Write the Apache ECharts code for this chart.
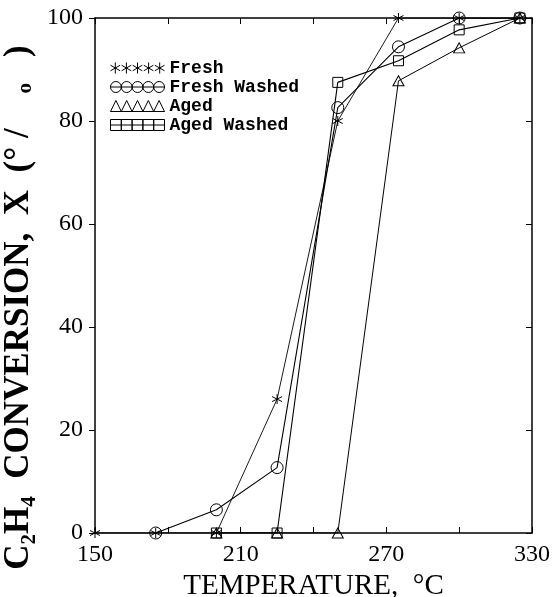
<!DOCTYPE html>
<html>
<head>
<meta charset="utf-8">
<script src="https://cdn.jsdelivr.net/npm/echarts@6/dist/echarts.min.js"></script>
<style>html,body{margin:0;padding:0;background:#fff}#c{width:552px;height:597px}</style>
</head>
<body>
<div id="c"></div>
<script>
// ---- data ----
const seriesNames = ['Fresh', 'Fresh Washed', 'Aged', 'Aged Washed'];
const freshT = [150, 175, 200, 225, 250, 275, 300, 325];
const freshX = [0, 0, 0, 26, 80, 100, 100, 100];
const freshWashedT = [175, 200, 225, 250, 275, 300, 325];
const freshWashedX = [0, 4.5, 12.7, 82.6, 94.4, 100, 100];
const agedT = [200, 225, 250, 275, 300, 325];
const agedX = [0, 0, 0, 87.8, 94.2, 100];
const agedWashedT = [200, 225, 250, 275, 300, 325];
const agedWashedX = [0, 0, 87.5, 91.7, 97.7, 100];
const xTicks = [150, 210, 270, 330];
const yTicks = [0, 20, 40, 60, 80, 100];

function pairs(t, x) { return t.map((v, i) => [v, x[i]]); }

// symbols
const starPath = 'path://M0,-5L0,5M-4.33,-2.5L4.33,2.5M-4.33,2.5L4.33,-2.5';
function legendStars() {
  let p = '';
  for (let i = 0; i < 5; i++) {
    const c = 5 + i * 10;
    p += `M${c},0L${c},10M${c - 4.33},2.5L${c + 4.33},7.5M${c - 4.33},7.5L${c + 4.33},2.5`;
  }
  return 'path://' + p;
}
function legendCircles() {
  let p = '';
  for (let i = 0; i < 5; i++) {
    const x0 = i * 10;
    p += `M${x0},5A5,5,0,1,1,${x0 + 10},5A5,5,0,1,1,${x0},5Z`;
  }
  p += 'M0,5L50,5';
  return 'path://' + p;
}
function legendTriangles() {
  let p = '';
  for (let i = 0; i < 5; i++) {
    const x0 = i * 10;
    p += `M${x0},10L${x0 + 5},1L${x0 + 10},10Z`;
  }
  p += 'M0,10L50,10';
  return 'path://' + p;
}
function legendSquares() {
  let p = '';
  for (let i = 0; i < 5; i++) {
    const x0 = i * 10;
    p += `M${x0},0L${x0 + 10},0L${x0 + 10},10L${x0},10Z`;
  }
  p += 'M0,5L50,5';
  return 'path://' + p;
}

const hollow = { color: 'rgba(0,0,0,0)', borderColor: '#000', borderWidth: 1 };
const serif = "'Liberation Serif', 'DejaVu Serif', serif";

const chart = echarts.init(document.getElementById('c'), null, { renderer: 'canvas' });
chart.setOption({
  animation: false,
  backgroundColor: '#fff',
  grid: { left: 95, right: 20, top: 18, bottom: 64, containLabel: false, outerBoundsMode: 'none' },
  legend: {
    orient: 'vertical',
    left: 105,
    top: 54,
    itemWidth: 54,
    itemHeight: 11,
    itemGap: 1,
    symbolKeepAspect: false,
    textStyle: { fontFamily: "'Liberation Mono', monospace", fontWeight: 'bold', fontSize: 18, color: '#000', lineHeight: 16 },
    data: [
      { name: seriesNames[0], icon: legendStars(), itemStyle: hollow },
      { name: seriesNames[1], icon: legendCircles(), itemStyle: hollow },
      { name: seriesNames[2], icon: legendTriangles(), itemStyle: hollow },
      { name: seriesNames[3], icon: legendSquares(), itemStyle: hollow }
    ]
  },
  xAxis: [
    {
      type: 'value', min: 150, max: 330, interval: 30, position: 'bottom',
      name: 'TEMPERATURE,  °C', nameLocation: 'middle', nameGap: 32,
      nameTextStyle: { fontFamily: serif, fontSize: 29, color: '#000' },
      axisLine: { onZero: false, lineStyle: { color: '#000', width: 1.5 } },
      axisTick: { inside: true, length: 6, lineStyle: { color: '#000', width: 1 } },
      axisLabel: {
        fontFamily: serif, fontSize: 24, color: '#000', margin: 10,
        formatter: v => (xTicks.indexOf(v) >= 0 ? String(v) : '')
      },
      splitLine: { show: false }
    },
    {
      type: 'value', min: 150, max: 330, interval: 30, position: 'top',
      axisLine: { onZero: false, lineStyle: { color: '#000', width: 1.5 } },
      axisTick: { inside: true, length: 6, lineStyle: { color: '#000', width: 1 } },
      axisLabel: { show: false },
      splitLine: { show: false }
    }
  ],
  yAxis: [
    {
      type: 'value', min: 0, max: 100, interval: 20, position: 'left',
      name: 'C₂H₄  CONVERSION,  X  (° /    ₒ   )', nameLocation: 'middle', nameGap: 38,
      nameTextStyle: { fontFamily: serif, fontSize: 35, fontWeight: 'bold', color: '#000', padding: [0, 64, 0, 0] },
      axisLine: { onZero: false, lineStyle: { color: '#000', width: 1.5 } },
      axisTick: { inside: false, length: 6, lineStyle: { color: '#000', width: 1 } },
      axisLabel: {
        fontFamily: serif, fontSize: 24, color: '#000', margin: 12,
        formatter: v => (yTicks.indexOf(v) >= 0 ? String(v) : '')
      },
      splitLine: { show: false }
    },
    {
      type: 'value', min: 0, max: 100, interval: 20, position: 'right',
      axisLine: { onZero: false, lineStyle: { color: '#000', width: 1.5 } },
      axisTick: { inside: true, length: 6, lineStyle: { color: '#000', width: 1 } },
      axisLabel: { show: false },
      splitLine: { show: false }
    }
  ],
  series: [
    {
      name: seriesNames[0], type: 'line', data: pairs(freshT, freshX),
      symbol: starPath, symbolSize: 10, itemStyle: hollow,
      lineStyle: { color: '#000', width: 0.9 }, z: 4
    },
    {
      name: seriesNames[1], type: 'line', data: pairs(freshWashedT, freshWashedX),
      symbol: 'circle', symbolSize: 12, itemStyle: hollow,
      lineStyle: { color: '#000', width: 1.1 }, z: 3
    },
    {
      name: seriesNames[2], type: 'line', data: pairs(agedT, agedX),
      symbol: 'triangle', symbolSize: [11, 10], itemStyle: hollow,
      lineStyle: { color: '#000', width: 1 }, z: 3
    },
    {
      name: seriesNames[3], type: 'line', data: pairs(agedWashedT, agedWashedX),
      symbol: 'rect', symbolSize: 10, itemStyle: hollow,
      lineStyle: { color: '#000', width: 1.1 }, z: 3
    }
  ]
});
</script>
</body>
</html>
